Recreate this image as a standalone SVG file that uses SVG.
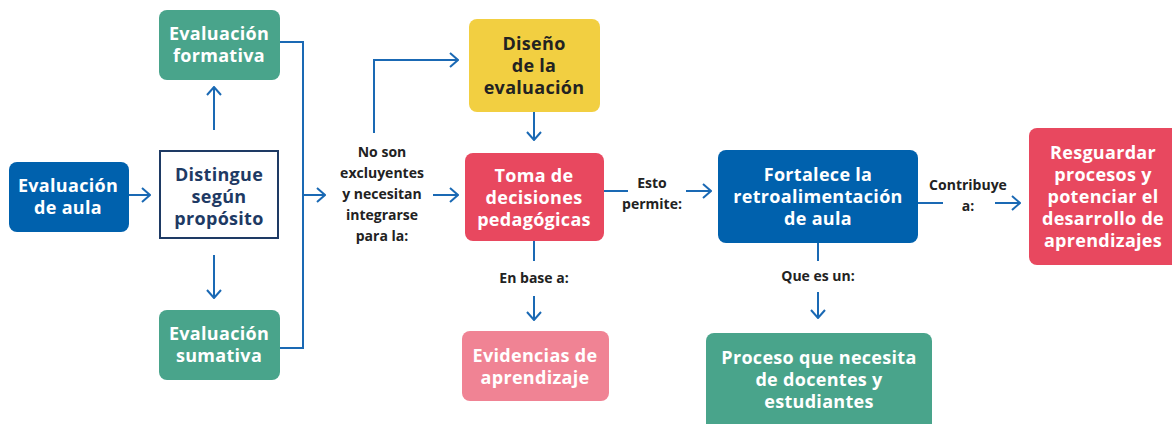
<svg xmlns="http://www.w3.org/2000/svg" width="1172" height="424" viewBox="0 0 1172 424">
<style>
.t{font-family:"Open Sans","Noto Sans",sans-serif;font-weight:700;text-anchor:middle}
.w{fill:#fff;font-size:18px;letter-spacing:0.3px}
.d{fill:#222;font-size:18px;letter-spacing:0.3px}
.n{fill:#1E3A64;font-size:18px;letter-spacing:0.3px}
.l{fill:#222;font-size:14px}
.c{fill:none;stroke:#1A69B4;stroke-width:2}
</style>
<defs>
<marker id="a" viewBox="0 0 10 16" refX="9" refY="8" markerWidth="10" markerHeight="16" markerUnits="userSpaceOnUse" orient="auto">
<path d="M1 1 L9 8 L1 15" fill="none" stroke="#1A69B4" stroke-width="2"/>
</marker>
</defs>
<rect width="1172" height="424" fill="#fff"/>
<g id="connectors">
<path class="c" d="M129 195 H150" marker-end="url(#a)"/>
<path class="c" d="M214 130 V87" marker-end="url(#a)"/>
<path class="c" d="M214 255 V298" marker-end="url(#a)"/>
<path class="c" d="M280 42 H303 V348 H280"/>
<path class="c" d="M303 195 H325" marker-end="url(#a)"/>
<path class="c" d="M374 133 V60 H458" marker-end="url(#a)"/>
<path class="c" d="M433 195 H458" marker-end="url(#a)"/>
<path class="c" d="M534 112 V140" marker-end="url(#a)"/>
<path class="c" d="M534 241 V261"/>
<path class="c" d="M534 296 V320" marker-end="url(#a)"/>
<path class="c" d="M604 191 H628"/>
<path class="c" d="M686 191 H711" marker-end="url(#a)"/>
<path class="c" d="M918 203 H943"/>
<path class="c" d="M995 203 H1020" marker-end="url(#a)"/>
<path class="c" d="M818 243 V261"/>
<path class="c" d="M818 292 V318" marker-end="url(#a)"/>
</g>
<g id="aula">
<rect x="9" y="162" width="120" height="70" rx="8" fill="#0061AD"/>
<text class="t w" x="68" y="192">Evaluación</text>
<text class="t w" x="68" y="214">de aula</text>
</g>
<g id="distingue">
<rect x="160" y="151" width="118" height="87" fill="#fff" stroke="#1E3A64" stroke-width="2"/>
<text class="t n" x="219" y="181">Distingue</text>
<text class="t n" x="219" y="203">según</text>
<text class="t n" x="219" y="225">propósito</text>
</g>
<g id="formativa">
<rect x="159" y="10" width="121" height="70" rx="8" fill="#49A48B"/>
<text class="t w" x="219" y="40">Evaluación</text>
<text class="t w" x="219" y="62">formativa</text>
</g>
<g id="sumativa">
<rect x="159" y="310" width="121" height="70" rx="8" fill="#49A48B"/>
<text class="t w" x="219" y="340">Evaluación</text>
<text class="t w" x="219" y="362">sumativa</text>
</g>
<g id="lbl-integrar">
<text class="t l" x="382" y="157">No son</text>
<text class="t l" x="382" y="178">excluyentes</text>
<text class="t l" x="382" y="199">y necesitan</text>
<text class="t l" x="382" y="220">integrarse</text>
<text class="t l" x="382" y="241">para la:</text>
</g>
<g id="diseno">
<rect x="469" y="19" width="131" height="93" rx="8" fill="#F2CF41"/>
<text class="t d" x="534" y="50">Diseño</text>
<text class="t d" x="534" y="72">de la</text>
<text class="t d" x="534" y="94">evaluación</text>
</g>
<g id="toma">
<rect x="465" y="153" width="139" height="88" rx="8" fill="#E8485F"/>
<text class="t w" x="534" y="182">Toma de</text>
<text class="t w" x="534" y="204">decisiones</text>
<text class="t w" x="534" y="226">pedagógicas</text>
</g>
<g id="lbl-base"><text class="t l" x="534" y="283">En base a:</text></g>
<g id="evidencias">
<rect x="462" y="331" width="147" height="70" rx="8" fill="#F08394"/>
<text class="t w" x="535" y="362">Evidencias de</text>
<text class="t w" x="535" y="384">aprendizaje</text>
</g>
<g id="lbl-permite">
<text class="t l" x="652" y="188">Esto</text>
<text class="t l" x="652" y="209">permite:</text>
</g>
<g id="fortalece">
<rect x="718" y="150" width="200" height="93" rx="8" fill="#0061AD"/>
<text class="t w" x="818" y="181">Fortalece la</text>
<text class="t w" x="818" y="203">retroalimentación</text>
<text class="t w" x="818" y="225">de aula</text>
</g>
<g id="lbl-contribuye">
<text class="t l" x="968" y="190">Contribuye</text>
<text class="t l" x="968" y="211">a:</text>
</g>
<g id="resguardar">
<rect x="1029" y="128" width="152" height="137" rx="8" fill="#E8485F"/>
<text class="t w" x="1103" y="159">Resguardar</text>
<text class="t w" x="1103" y="181">procesos y</text>
<text class="t w" x="1103" y="203">potenciar el</text>
<text class="t w" x="1103" y="225">desarrollo de</text>
<text class="t w" x="1103" y="247">aprendizajes</text>
</g>
<g id="lbl-quees"><text class="t l" x="818" y="281">Que es un:</text></g>
<g id="proceso">
<rect x="706" y="333" width="226" height="100" rx="8" fill="#49A48B"/>
<text class="t w" x="819" y="364">Proceso que necesita</text>
<text class="t w" x="819" y="386">de docentes y</text>
<text class="t w" x="819" y="408">estudiantes</text>
</g>
</svg>
